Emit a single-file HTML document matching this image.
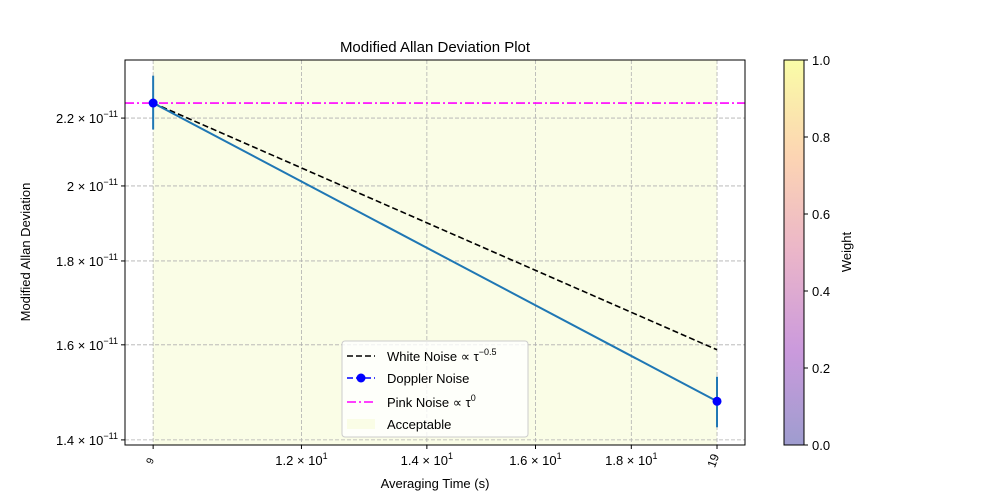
<!DOCTYPE html>
<html><head><meta charset="utf-8"><style>
body{margin:0;background:#fff;}
svg{display:block;font-family:"Liberation Sans","DejaVu Sans",sans-serif;}
</style></head><body>
<svg id="c" width="1000" height="500">
<defs>
<linearGradient id="plasma" x1="0" y1="1" x2="0" y2="0">
<stop offset="0" stop-color="#0d0887" stop-opacity="0.4"/>
<stop offset="0.25" stop-color="#7e03a8" stop-opacity="0.4"/>
<stop offset="0.5" stop-color="#cc4778" stop-opacity="0.4"/>
<stop offset="0.75" stop-color="#f89540" stop-opacity="0.4"/>
<stop offset="1" stop-color="#f0f921" stop-opacity="0.4"/>
</linearGradient>
</defs>
</svg>
<script>
const taus=[10,20];
const dopplerVals=[2.247e-11,1.478e-11];
const errLow=[2.165e-11,1.425e-11];
const errHigh=[2.335e-11,1.530e-11];
const pinkLevel=[2.247e-11];
const xTickVals=[12,14,16,18];
const xTickLabels=["1.2","1.4","1.6","1.8"];
const yTickVals=[1.4e-11,1.6e-11,1.8e-11,2.0e-11,2.2e-11];
const yTickLabels=["1.4","1.6","1.8","2","2.2"];
const cbTicks=[0,0.2,0.4,0.6,0.8,1.0];

const NS="http://www.w3.org/2000/svg";
const svg=document.getElementById('c');
const L=125,R=745,T=60,B=445;
const xMin=9.66,xMax=20.7,yMin=1.390e-11,yMax=2.387e-11;
const X=v=>L+(Math.log(v)-Math.log(xMin))/(Math.log(xMax)-Math.log(xMin))*(R-L);
const Y=v=>B-(Math.log(v)-Math.log(yMin))/(Math.log(yMax)-Math.log(yMin))*(B-T);
function el(tag,attrs,parent){const e=document.createElementNS(NS,tag);for(const k in attrs)e.setAttribute(k,attrs[k]);(parent||svg).appendChild(e);return e;}
function txt(x,y,s,attrs,parent){const t=el('text',Object.assign({x:x,y:y,'font-size':13,fill:'#000'},attrs||{}),parent);t.innerHTML=s;return t;}

// span
let span=el('rect',{x:X(taus[0]),y:T,width:X(taus[1])-X(taus[0]),height:B-T,fill:'#fafde6'});


// grid
const gx=[...xTickVals,...taus];
gx.forEach(v=>{let g=el('line',{x1:X(v),x2:X(v),y1:T,y2:B,stroke:'#b0b0b0','stroke-dasharray':'4,2','stroke-width':0.8});

});
yTickVals.forEach(v=>{let g=el('line',{x1:L,x2:R,y1:Y(v),y2:Y(v),stroke:'#b0b0b0','stroke-dasharray':'4,2','stroke-width':0.8});

});
// pink
let pk=el('line',{x1:L,x2:R,y1:Y(pinkLevel[0]),y2:Y(pinkLevel[0]),stroke:'#ff00ff','stroke-width':1.6,'stroke-dasharray':'9,3,2,3'});


// white noise
const w0=dopplerVals[0];
let wn=el('line',{x1:X(taus[0]),y1:Y(w0),x2:X(taus[1]),y2:Y(w0*Math.pow(taus[1]/taus[0],-0.5)),stroke:'#000','stroke-width':1.6,'stroke-dasharray':'6,3'});


// error bars
taus.forEach((t,i)=>{let e=el('line',{x1:X(t),x2:X(t),y1:Y(errLow[i]),y2:Y(errHigh[i]),stroke:'#1f77b4','stroke-width':2});

});
let dl=el('polyline',{points:taus.map((t,i)=>X(t)+','+Y(dopplerVals[i])).join(' '),fill:'none',stroke:'#1f77b4','stroke-width':2});


taus.forEach((t,i)=>{let m=el('circle',{cx:X(t),cy:Y(dopplerVals[i]),r:4.5,fill:'#0000ff'});

});
// axes frame
let fr=el('rect',{x:L,y:T,width:R-L,height:B-T,fill:'none',stroke:'#000','stroke-width':1});


// x ticks
xTickVals.forEach((v,i)=>{el('line',{x1:X(v),x2:X(v),y1:B,y2:B+4,stroke:'#000'});
let t=txt(X(v),B+20,xTickLabels[i]+' × 10<tspan dy="-6" font-size="9">1</tspan>',{'text-anchor':'middle'});

});
taus.forEach((v,i)=>{el('line',{x1:X(v),x2:X(v),y1:B,y2:B+4,stroke:'#000'});
let t=txt(0,0,i==0?'9':'19',{'font-size':i==0?10:12,'text-anchor':'middle',transform:`translate(${X(v)},${B+17}) rotate(-70)`});

});
// y ticks
yTickVals.forEach((v,i)=>{el('line',{x1:L-4,x2:L,y1:Y(v),y2:Y(v),stroke:'#000'});
let t=txt(L-7,Y(v)+5,yTickLabels[i]+' × 10<tspan dy="-6" font-size="9">−11</tspan>',{'text-anchor':'end'});

});
let tt=txt(435,52,'Modified Allan Deviation Plot',{'font-size':15,'text-anchor':'middle'});

let xt=txt(435,488,'Averaging Time (s)',{'text-anchor':'middle'});

let yt=txt(0,0,'Modified Allan Deviation',{'text-anchor':'middle',transform:'translate(30,252) rotate(-90)'});

// legend
const lg=el('g',{});


el('rect',{x:342,y:341,width:186,height:96,rx:3,fill:'#fff','fill-opacity':0.8,stroke:'#ccc'},lg);
el('line',{x1:347,x2:375,y1:356,y2:356,stroke:'#000','stroke-width':1.6,'stroke-dasharray':'6,3'},lg);
txt(387,361,'White Noise  ∝ τ<tspan dy="-6" font-size="9">−0.5</tspan>',{},lg);
el('line',{x1:347,x2:375,y1:378,y2:378,stroke:'#0000ff','stroke-width':1.6,'stroke-dasharray':'6,3'},lg);
el('circle',{cx:361,cy:378,r:4.5,fill:'#0000ff'},lg);
txt(387,383,'Doppler Noise',{},lg);
el('line',{x1:347,x2:375,y1:402,y2:402,stroke:'#ff00ff','stroke-width':1.6,'stroke-dasharray':'9,3,2,3'},lg);
txt(387,407,'Pink Noise  ∝ τ<tspan dy="-6" font-size="9">0</tspan>',{},lg);
el('rect',{x:347,y:419,width:28,height:10,fill:'#fafde6'},lg);
txt(387,429,'Acceptable',{},lg);
// colorbar
let cb=el('rect',{x:784,y:T,width:20,height:B-T,fill:'url(#plasma)',stroke:'#000','stroke-width':1});


cbTicks.forEach(v=>{const y=B-v*(B-T);el('line',{x1:804,x2:808,y1:y,y2:y,stroke:'#000'});
let t=txt(812,y+5,v.toFixed(1),{});

});
let cl=txt(0,0,'Weight',{'text-anchor':'middle',transform:'translate(851,252) rotate(-90)'});

</script>
</body></html>
